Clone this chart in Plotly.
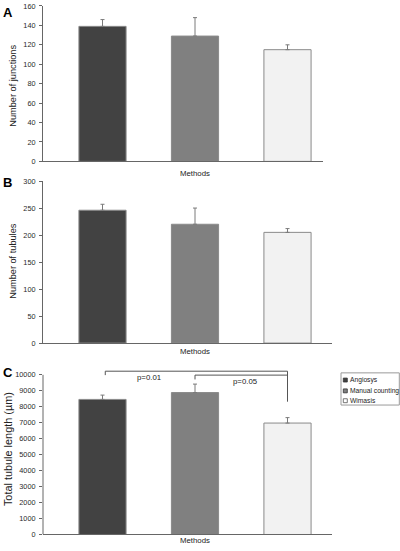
import plotly.graph_objects as go

# ---------------- data ----------------
methods = ["Angiosys", "Manual counting", "Wimasis"]
colors = ["#424242", "#808080", "#f2f2f2"]

junctions = [139, 129, 115]
junctions_err = [7, 19, 5]

tubules = [246, 220, 205]
tubules_err = [11, 30, 7]

length = [8460, 8890, 6980]
length_err = [270, 530, 340]

# significance brackets: (from x, to x, top value, left leg end, right leg end, label, label x, label y)
brackets = [
    (0.03, 2.0, 10228, 9982, 8318, "p=0.01", 0.5, 9815),
    (1.0, 2.0, 9982, 9711, 9982, "p=0.05", 1.55, 9569),
]

W, H = 400, 551
FONT = "Arial, Liberation Sans, sans-serif"

fig = go.Figure()

def px_x(p):
    return p / W

def px_y(p):
    return 1 - p / H

PX_PER_UNIT = 92.5
CENTER0 = 102.5
AX_LEFT = 43

def xrange(right_px):
    return [(AX_LEFT - CENTER0) / PX_PER_UNIT, (right_px - CENTER0) / PX_PER_UNIT]

panels = [
    # values, errors, ytitle, zero_px, top_px, ymax_range, dtick, right_px
    (junctions, junctions_err, "Number of junctions", 160.0, 2.0, 160, 20, 323),
    (tubules, tubules_err, "Number of tubules", 344.7, 180.0, 300, 50, 332),
    (length, length_err, "Total tubule length (µm)", 539.3, 370.5, 10400, 1000, 332),
]

letters = [("A", 9), ("B", 181.5), ("C", 375)]
methods_y = [172, 353, 545.5]
ytitle_pos = [(13, 83, 9.2), (13, 262, 9.2), (8, 452.5, 10.9)]

for i, (vals, errs, ytitle, zero_px, top_px, ymax, dtick, right_px) in enumerate(panels):
    n = i + 1
    xa = "x" if n == 1 else f"x{n}"
    ya = "y" if n == 1 else f"y{n}"
    for j, m in enumerate(methods):
        fig.add_trace(go.Bar(
            x=[j], y=[vals[j]], name=m, xaxis=xa, yaxis=ya,
            width=0.51,
            marker=dict(color=colors[j], line=dict(color="#8a8a8a", width=1)),
            error_y=dict(type="data", array=[errs[j]], arrayminus=[0], symmetric=False,
                         color="#7a7a7a", thickness=1, width=2),
            showlegend=False,
        ))
    xr = xrange(right_px)
    xkey = "xaxis" if n == 1 else f"xaxis{n}"
    ykey = "yaxis" if n == 1 else f"yaxis{n}"
    fig.layout[xkey] = dict(
        domain=[px_x(AX_LEFT), px_x(right_px)], range=xr, anchor=ya,
        showticklabels=False, ticks="", showgrid=False, zeroline=False,
        showline=True, linecolor="#666666", linewidth=1, fixedrange=True,
    )
    fig.layout[ykey] = dict(
        domain=[px_y(zero_px), px_y(top_px)], range=[0, ymax], anchor=xa,
        tickmode="linear", tick0=0, dtick=dtick, tickformat="d",
        showgrid=False, zeroline=False,
        showline=(n != 3), linecolor="#666666", linewidth=1,
        ticks="outside", ticklen=3, tickcolor="#666666", tickwidth=1,
        tickfont=dict(family=FONT, size=7.3, color="#2a2a2a"),
        ticklabelstandoff=2,
        fixedrange=True,
    )
    # y title
    tx, ty, tsize = ytitle_pos[i]
    fig.add_annotation(
        text=ytitle, xref="paper", yref="paper",
        x=px_x(tx), y=px_y(ty),
        textangle=-90, showarrow=False, xanchor="center", yanchor="middle",
        font=dict(family=FONT, size=tsize, color="#222222"),
    )
    # x title
    fig.add_annotation(
        text="Methods", xref=xa, yref="paper", x=1, y=px_y(methods_y[i]),
        showarrow=False, xanchor="center", yanchor="middle",
        font=dict(family=FONT, size=7.8, color="#222222"),
    )
    # panel letter
    fig.add_annotation(
        text="<b>" + letters[i][0] + "</b>", xref="paper", yref="paper",
        x=px_x(0.5), y=px_y(letters[i][1]), showarrow=False,
        xanchor="left", yanchor="middle",
        font=dict(family=FONT, size=13, color="#000000"),
    )

# panel C y-axis line (ends at 10000)
fig.add_shape(type="line", xref="x3 domain", yref="y3", x0=0, x1=0, y0=0, y1=10000,
              line=dict(color="#666666", width=1))

# significance brackets
for (a, b, top, lleg, rleg, label, lx, ly) in brackets:
    fig.add_shape(type="path", xref="x3", yref="y3",
                  path=f"M {a} {lleg} L {a} {top} L {b} {top} L {b} {rleg}",
                  line=dict(color="#555555", width=1))
    fig.add_annotation(text=label, xref="x3", yref="y3", x=lx, y=ly, showarrow=False,
                       xanchor="center", yanchor="middle",
                       font=dict(family=FONT, size=7.8, color="#222222"))

# legend box
fig.add_shape(type="rect", xref="paper", yref="paper",
              x0=px_x(341), x1=px_x(399.3), y0=px_y(407.7), y1=px_y(375),
              line=dict(color="#9a9a9a", width=1), fillcolor="white", layer="below")
leg_y = [382.3, 393.3, 403.3]
leg_border = ["#333333", "#333333", "#555555"]
for j, m in enumerate(methods):
    fig.add_shape(type="rect", xref="paper", yref="paper",
                  x0=px_x(343.3), x1=px_x(347.3), y0=px_y(leg_y[j] + 2), y1=px_y(leg_y[j] - 2),
                  line=dict(color=leg_border[j], width=0.8),
                  fillcolor=colors[j] if j < 2 else "#ffffff")
    fig.add_annotation(text=m, xref="paper", yref="paper", x=px_x(347.8), y=px_y(leg_y[j]),
                       showarrow=False, xanchor="left", yanchor="middle",
                       font=dict(family=FONT, size=6.7, color="#222222"))

fig.update_layout(
    width=W, height=H,
    margin=dict(l=0, r=0, t=0, b=0),
    paper_bgcolor="white", plot_bgcolor="white",
    showlegend=False, barmode="overlay",
    font=dict(family=FONT),
)

fig.write_html("out.html", config={"displayModeBar": False},
               post_script="document.body.style.margin='0px';")
